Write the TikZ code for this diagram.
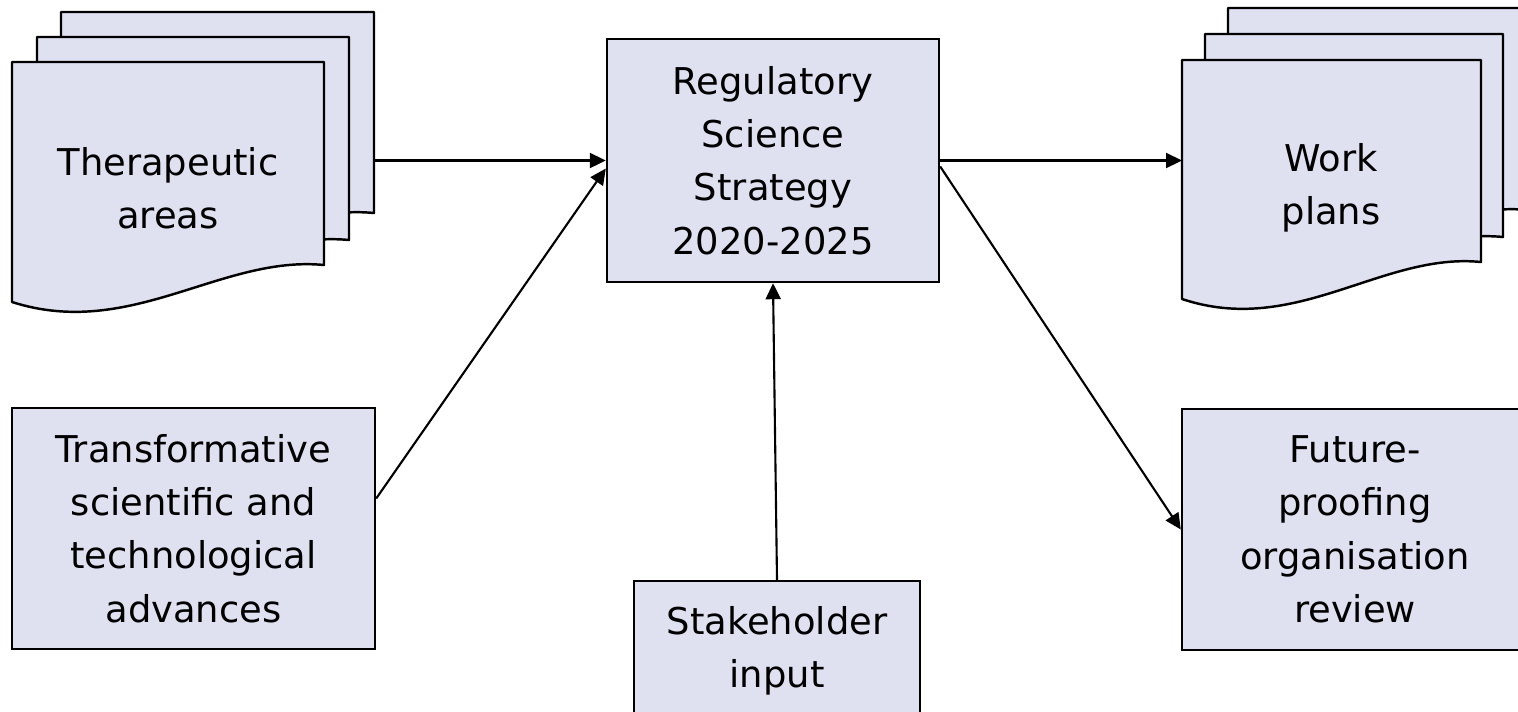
\documentclass[tikz,border=0pt]{standalone}
\usepackage{fontspec}
\setmainfont{DejaVu Sans}
\usetikzlibrary{arrows.meta,calc}
\definecolor{boxfill}{RGB}{223,225,241}
\newcommand{\docpage}[4]{%
  \filldraw[fill=boxfill,line width=1.4pt,line join=round] (#1,#2) -- ++(#3,0) -- ++(0,#4)
    .. controls +(-0.33*#3,-10) and +(0.38*#3,38) .. ++(-#3,37) -- cycle;}

\begin{document}
\begin{tikzpicture}[x=0.02cm,y=-0.02cm,
  procbox/.style={draw,fill=boxfill,line width=1.4pt,align=center,inner sep=0pt,
    font=\fontsize{21}{30.4}\selectfont},
  doctext/.style={align=center,inner sep=0pt,font=\fontsize{21}{30.4}\selectfont},
  arr/.style={line width=1.2pt,-{Triangle[length=0.32cm,width=0.3cm]}}]
\useasboundingbox (0,0) rectangle (1518,711);
\clip (0,0) rectangle (1518,711);

\docpage{61}{12}{313}{201}
\docpage{37}{37}{312}{203}
\docpage{12}{62}{312}{203}
\node[doctext] (ther) at (168,188) {Therapeutic\\areas};
\coordinate (ther-back) at (374,160.5);

\docpage{1228}{8}{300}{202}
\docpage{1205}{34}{298}{203}
\docpage{1182}{60}{299}{202}
\node[doctext] (work) at (1331,188) {Work\\plans};
\coordinate (work-front) at (1182,160.5);

\node[procbox,minimum width=6.64cm,minimum height=4.86cm] (reg) at (773,160.5)
  {Regulatory\\Science\\Strategy\\2020-2025};
\node[procbox,minimum width=7.26cm,minimum height=4.82cm] (trans) at (193.5,528.5)
  {Transformative\\scientific and\\technological\\advances};
\node[procbox,minimum width=5.72cm,minimum height=2.8cm] (stake) at (777,651)
  {Stakeholder\\input};
\node[procbox,minimum width=6.92cm,minimum height=4.82cm] (fut) at (1355,529.5)
  {Future-\\proofing\\organisation\\review};

\draw[arr] (ther-back) -- (reg.west);
\draw[arr] ($(trans.east)+(0,-30)$) -- ($(reg.west)+(0,8)$);
\draw[arr] (stake.north) -- (reg.south);
\draw[arr] (reg.east) -- (work-front);
\draw[arr] ($(reg.east)+(0,6)$) -- (fut.west);
\end{tikzpicture}
\end{document}
